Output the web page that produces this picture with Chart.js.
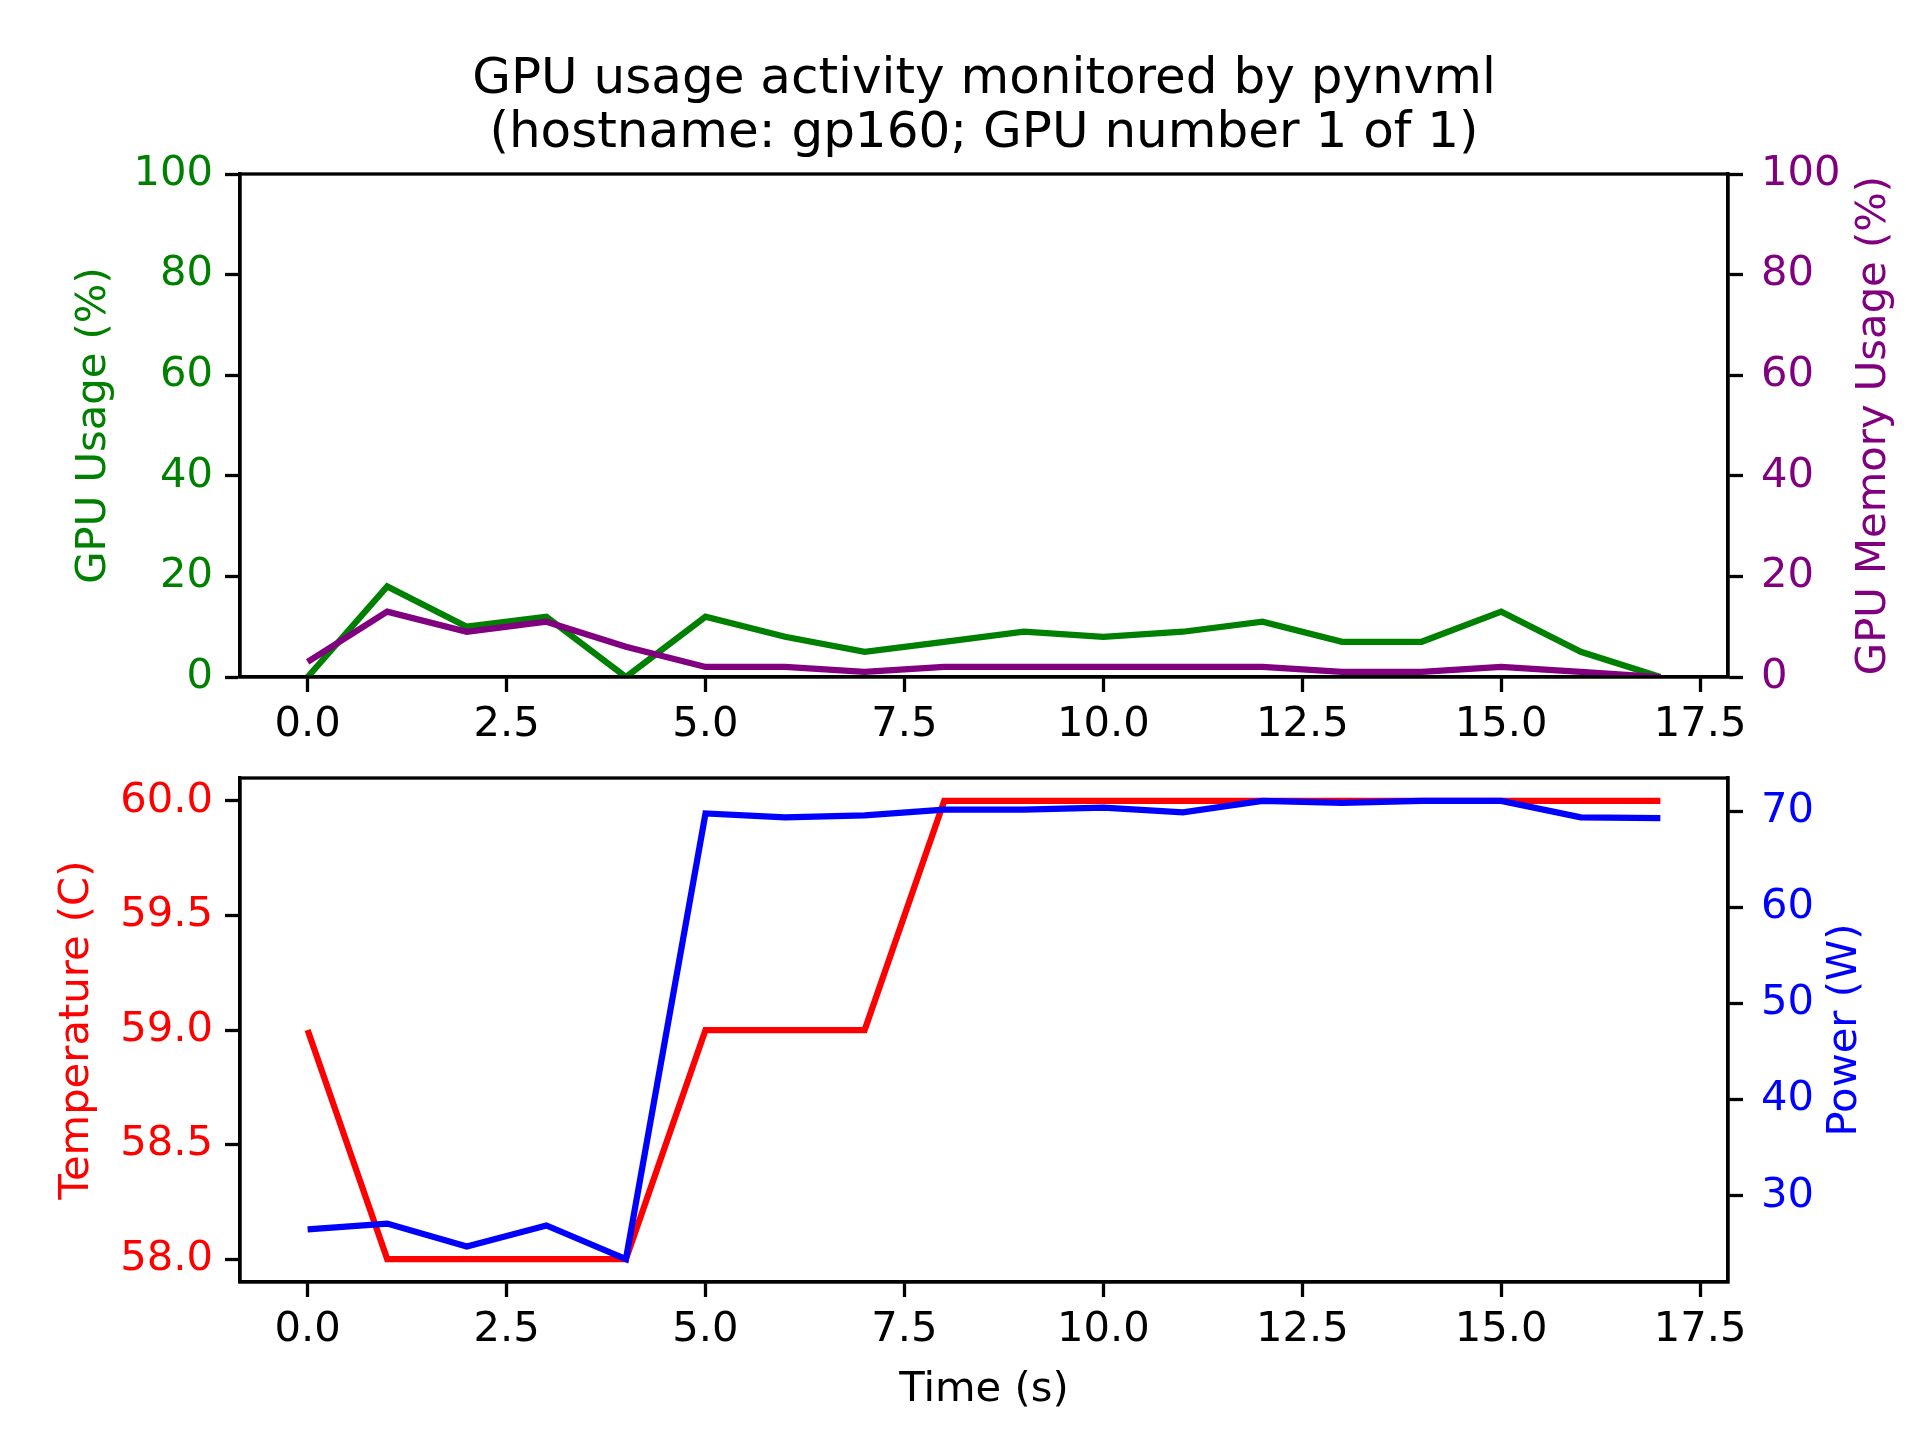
<!DOCTYPE html>
<html>
<head>
<meta charset="utf-8">
<title>GPU usage activity monitored by pynvml</title>
<script src="https://cdn.jsdelivr.net/npm/chart.js@4.4.1/dist/chart.umd.min.js"></script>
<style>
  html, body { margin: 0; padding: 0; background: #ffffff; }
  #wrap { position: relative; width: 1920px; height: 1440px; }
  #usageChart { position: absolute; left: 0; top: 0; }
  #powerChart { position: absolute; left: 0; top: 735px; }
</style>
</head>
<body>
<div id="wrap">
  <canvas id="usageChart" width="1920" height="753"></canvas>
  <canvas id="powerChart" width="1920" height="705"></canvas>
</div>
<script>
// samples, one per second
const timeSeconds = [0, 1, 2, 3, 4, 5, 6, 7, 8, 9, 10, 11, 12, 13, 14, 15, 16, 17];
const gpuUsage = [0, 18, 10, 12, 0, 12, 8, 5, 7, 9, 8, 9, 11, 7, 7, 13, 5, 0];
const memoryUsage = [3, 13, 9, 11, 6, 2, 2, 1, 2, 2, 2, 2, 2, 1, 1, 2, 1, 0];
const temperature = [59, 58, 58, 58, 58, 59, 59, 59, 60, 60, 60, 60, 60, 60, 60, 60, 60, 60];
const power = [26.5, 27.1, 24.7, 26.9, 23.4, 69.8, 69.4, 69.6, 70.2, 70.2, 70.4, 69.9, 71.1, 70.9, 71.1, 71.1, 69.4, 69.3];

const timeTicks = [0, 2.5, 5, 7.5, 10, 12.5, 15, 17.5];
const usageTicks = [0, 20, 40, 60, 80, 100];
const temperatureTicks = [58, 58.5, 59, 59.5, 60];
const powerTicks = [30, 40, 50, 60, 70];

const titleLines = ['GPU usage activity monitored by pynvml', '(hostname: gp160; GPU number 1 of 1)'];

const GREEN = '#008000';
const PURPLE = '#800080';
const RED = '#ff0000';
const BLUE = '#0000ff';

const TICK_FONT = { family: 'DejaVu Sans', size: 41.7, lineHeight: 1.2 };
const LINE_W = 6.25;
const SPINE_W = 3.3;

Chart.defaults.font.family = 'DejaVu Sans';
Chart.defaults.color = '#000';

// matplotlib style 5% margins
function padRange(values, frac) {
  const lo = Math.min(...values);
  const hi = Math.max(...values);
  const pad = (hi - lo) * frac;
  return { min: lo - pad, max: hi + pad };
}

function toPoints(ys) {
  return timeSeconds.map((t, i) => ({ x: t, y: ys[i] }));
}

// draws the box around the plot area (top spine is not an axis here)
const framePlugin = {
  id: 'frame',
  afterDraw(chart) {
    const { ctx, chartArea } = chart;
    ctx.save();
    ctx.strokeStyle = '#000';
    ctx.lineWidth = SPINE_W;
    ctx.strokeRect(chartArea.left, chartArea.top, chartArea.right - chartArea.left, chartArea.bottom - chartArea.top);
    ctx.restore();
  }
};

// right axis label, read bottom-to-top like the left one
const sideTitlePlugin = {
  id: 'sideTitle',
  afterDraw(chart, args, opts) {
    const { ctx, chartArea } = chart;
    const scale = chart.scales[opts.scaleId];
    ctx.save();
    ctx.translate(scale.right - opts.offset, (chartArea.top + chartArea.bottom) / 2);
    ctx.rotate(-Math.PI / 2);
    ctx.font = TICK_FONT.size + 'px "DejaVu Sans"';
    ctx.fillStyle = opts.color;
    ctx.textAlign = 'center';
    ctx.textBaseline = 'middle';
    ctx.fillText(opts.text, 0, 0);
    ctx.restore();
  }
};

function xAxis(height, showTitle) {
  const range = padRange(timeSeconds, 0.05);
  return {
    type: 'linear',
    position: 'bottom',
    min: range.min,
    max: range.max,
    afterBuildTicks: s => { s.ticks = timeTicks.map(v => ({ value: v })); },
    afterFit: s => { s.height = height; },
    ticks: {
      color: '#000',
      font: TICK_FONT,
      padding: 8,
      maxRotation: 0,
      autoSkip: false,
      callback: v => Number(v).toFixed(1)
    },
    grid: { drawOnChartArea: false, drawTicks: true, tickLength: 15, tickWidth: SPINE_W, tickColor: '#000' },
    border: { display: true, color: '#000', width: SPINE_W },
    title: {
      display: showTitle,
      text: 'Time (s)',
      color: '#000',
      font: TICK_FONT,
      padding: { top: 0, bottom: 25 }
    }
  };
}

function yAxis(opts) {
  return {
    type: 'linear',
    position: opts.position,
    min: opts.min,
    max: opts.max,
    afterBuildTicks: s => { s.ticks = opts.ticks.map(v => ({ value: v })); },
    afterFit: s => { s.width = 192; },
    ticks: {
      color: opts.color,
      font: TICK_FONT,
      padding: opts.position === 'left' ? 12 : 18,
      autoSkip: false,
      callback: opts.format
    },
    grid: { drawOnChartArea: false, drawTicks: true, tickLength: 15, tickWidth: SPINE_W, tickColor: '#000' },
    border: { display: true, color: '#000', width: SPINE_W },
    title: {
      display: opts.position === 'left',
      text: opts.label,
      color: opts.color,
      font: TICK_FONT,
      padding: { top: opts.titlePad, bottom: 0 }
    }
  };
}

function lineDataset(label, ys, color, axisId, order) {
  return {
    label: label,
    data: toPoints(ys),
    yAxisID: axisId,
    borderColor: color,
    backgroundColor: color,
    borderWidth: LINE_W,
    pointRadius: 0,
    tension: 0,
    fill: false,
    order: order
  };
}

new Chart(document.getElementById('usageChart'), {
  type: 'line',
  data: {
    datasets: [
      lineDataset('GPU Usage (%)', gpuUsage, GREEN, 'yUsage', 2),
      lineDataset('GPU Memory Usage (%)', memoryUsage, PURPLE, 'yMemory', 1)
    ]
  },
  options: {
    responsive: false,
    animation: false,
    layout: { padding: { top: 0, left: 48, right: 0, bottom: 0 } },
    scales: {
      x: xAxis(76, false),
      yUsage: yAxis({ position: 'left', min: 0, max: 100, ticks: usageTicks, color: GREEN,
        label: 'GPU Usage (%)', titlePad: 21, format: v => String(v) }),
      yMemory: yAxis({ position: 'right', min: 0, max: 100, ticks: usageTicks, color: PURPLE,
        label: 'GPU Memory Usage (%)', titlePad: 0, format: v => String(v) })
    },
    plugins: {
      legend: { display: false },
      tooltip: { enabled: false },
      title: {
        display: true,
        text: titleLines,
        color: '#000',
        font: { family: 'DejaVu Sans', size: 50, weight: 'normal', lineHeight: 1.08 },
        padding: { top: 53, bottom: 13 }
      },
      sideTitle: { scaleId: 'yMemory', text: 'GPU Memory Usage (%)', color: PURPLE, offset: 46 }
    }
  },
  plugins: [framePlugin, sideTitlePlugin]
});

const tempRange = padRange(temperature, 0.05);
const powerRange = padRange(power, 0.05);

new Chart(document.getElementById('powerChart'), {
  type: 'line',
  data: {
    datasets: [
      lineDataset('Temperature (C)', temperature, RED, 'yTemp', 2),
      lineDataset('Power (W)', power, BLUE, 'yPower', 1)
    ]
  },
  options: {
    responsive: false,
    animation: false,
    layout: { padding: { top: 0, left: 48, right: 0, bottom: 0 } },
    scales: {
      x: xAxis(158, true),
      yTemp: yAxis({ position: 'left', min: tempRange.min, max: tempRange.max, ticks: temperatureTicks, color: RED,
        label: 'Temperature (C)', titlePad: 4, format: v => Number(v).toFixed(1) }),
      yPower: yAxis({ position: 'right', min: powerRange.min, max: powerRange.max, ticks: powerTicks, color: BLUE,
        label: 'Power (W)', titlePad: 0, format: v => String(v) })
    },
    plugins: {
      legend: { display: false },
      tooltip: { enabled: false },
      sideTitle: { scaleId: 'yPower', text: 'Power (W)', color: BLUE, offset: 75 }
    }
  },
  plugins: [framePlugin, sideTitlePlugin]
});
</script>
</body>
</html>
